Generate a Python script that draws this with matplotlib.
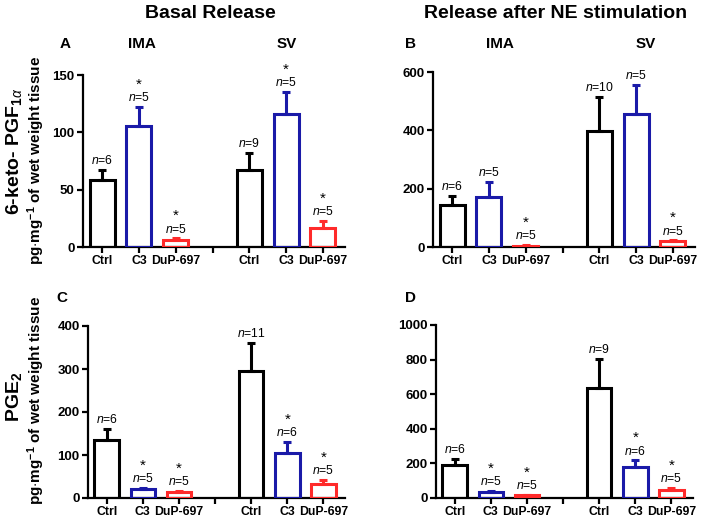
import matplotlib
matplotlib.use('Agg')
import matplotlib.pyplot as plt
import numpy as np

plt.rcParams['font.family'] = 'Liberation Sans'
plt.rcParams['font.weight'] = 'bold'
plt.rcParams['mathtext.fontset'] = 'custom'
plt.rcParams['mathtext.rm'] = 'Liberation Sans'
plt.rcParams['mathtext.it'] = 'Liberation Sans:italic:normal'
plt.rcParams['mathtext.bf'] = 'Liberation Sans:bold'

# data: order is IMA Ctrl, C3, DuP-697, SV Ctrl, C3, DuP-697
groups = ['Ctrl', 'C3', 'DuP-697', 'Ctrl', 'C3', 'DuP-697']
colors = ['black', '#1a1aa8', '#ff2a2a', 'black', '#1a1aa8', '#ff2a2a']

a_mean = [58, 105.5, 6, 67, 116, 17]
a_err = [67, 122, 7.5, 82, 135, 23]
a_n = [6, 5, 5, 9, 5, 5]
a_sig = [False, True, True, False, True, True]

b_mean = [144, 172, 5, 398, 457, 20]
b_err = [175, 223, 7, 515, 555, 23]
b_n = [6, 5, 5, 10, 5, 5]
b_sig = [False, False, True, False, False, True]

c_mean = [134, 21, 15, 295, 104, 33]
c_err = [161, 23, 16, 360, 131, 42]
c_n = [6, 5, 5, 11, 6, 5]
c_sig = [False, True, True, False, True, True]

d_mean = [189, 35, 15, 637, 177, 46]
d_err = [226, 42, 17, 805, 218, 58]
d_n = [6, 5, 5, 9, 6, 5]
d_sig = [False, True, True, False, True, True]

W, H = 709, 518

def panel(rect, mean, err, ns, sig, ymax, ystep):
    ax = fig.add_axes(rect)
    xs = np.array([0, 1, 2, 4, 5, 6])
    for x, m, e, c in zip(xs, mean, err, colors):
        ax.bar(x, m, width=0.68, facecolor='none', edgecolor=c, linewidth=2.2, zorder=3)
        ax.errorbar(x, m, yerr=[[0], [e - m]], fmt='none', ecolor=c, elinewidth=2.2,
                    capsize=3, capthick=2.2, zorder=2)
    for x, e, n, s in zip(xs, err, ns, sig):
        ax.annotate(r'$n$=%d' % n, (x, e), xytext=(0, 2), textcoords='offset points',
                    ha='center', va='bottom', fontsize=8.8, fontweight='normal')
        if s:
            ax.annotate('*', (x, e), xytext=(0, 11), textcoords='offset points',
                        ha='center', va='bottom', fontsize=11, fontweight='normal')
    ax.set_xlim(-0.52, 6.6)
    ax.set_ylim(0, ymax)
    ax.set_yticks(np.arange(0, ymax + 1, ystep))
    ax.set_xticks(list(xs) + [3])
    ax.set_xticklabels(groups + [''])
    for sp in ['top', 'right']:
        ax.spines[sp].set_visible(False)
    for sp in ['left', 'bottom']:
        ax.spines[sp].set_linewidth(1.6)
    ax.tick_params(width=1.6, length=4, pad=2)
    ax.tick_params(axis='y', labelsize=9.5)
    ax.tick_params(axis='x', labelsize=8.8)
    for lab in ax.get_xticklabels() + ax.get_yticklabels():
        lab.set_fontweight('bold')
    return ax

fig = plt.figure(figsize=(W / 100, H / 100), dpi=100)

panel([83 / W, 1 - 247 / H, 262 / W, 172 / H], a_mean, a_err, a_n, a_sig, 150, 50)
panel([433 / W, 1 - 247 / H, 262 / W, 175 / H], b_mean, b_err, b_n, b_sig, 600, 200)
panel([88 / W, 1 - 498 / H, 257 / W, 172 / H], c_mean, c_err, c_n, c_sig, 400, 100)
panel([436 / W, 1 - 498 / H, 257 / W, 173 / H], d_mean, d_err, d_n, d_sig, 1000, 200)

def ftext(x, y, s, **kw):
    fig.text(x / W, 1 - y / H, s, **kw)

ftext(210, 13, 'Basal Release', ha='center', va='center', fontsize=14, fontweight='bold')
ftext(556, 13, 'Release after NE stimulation', ha='center', va='center', fontsize=14, fontweight='bold')
for x, y, s in [(65, 44, 'A'), (142, 44, 'IMA'), (287, 44, 'SV'),
                (410, 44, 'B'), (500, 44, 'IMA'), (646, 44, 'SV'),
                (62, 298, 'C'), (410, 298, 'D')]:
    ftext(x, y, s, ha='center', va='center', fontsize=11, fontweight='bold')

ftext(14, 151, r'6-keto- PGF$_{1\alpha}$', ha='center', va='center', rotation=90, fontsize=14, fontweight='bold')
ftext(36, 160, r'pg$\cdot$mg$^{-1}$ of wet weight tissue', ha='center', va='center', rotation=90,
      fontsize=11, fontweight='bold')
ftext(14, 397, r'PGE$_2$', ha='center', va='center', rotation=90, fontsize=14, fontweight='bold')
ftext(36, 400, r'pg$\cdot$mg$^{-1}$ of wet weight tissue', ha='center', va='center', rotation=90,
      fontsize=11, fontweight='bold')

fig.savefig('out.png', dpi=100)
